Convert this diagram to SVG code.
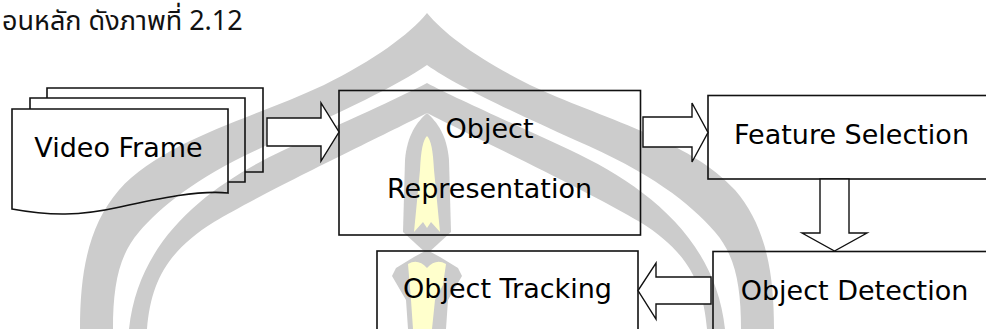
<svg xmlns="http://www.w3.org/2000/svg" xmlns:xlink="http://www.w3.org/1999/xlink" width="986" height="329" viewBox="0 0 986 329">
  <style>
    .box { fill: none; stroke: #111; stroke-width: 1.6; }
    .arrow { fill: #fff; stroke: #111; stroke-width: 1.4; stroke-linejoin: miter; }
    .label { font-family: "DejaVu Sans", "Verdana", sans-serif; font-size: 27px; fill: #000; text-anchor: middle; }
    .thai { font-family: "Noto Sans Thai", "Noto Sans", "DejaVu Sans", sans-serif; font-size: 27px; fill: #111; }
    .wm { fill: #cccccc; }
    .wmy { fill: #ffffcc; }
  </style>
  <defs>
    <g id="wm-half">
      <path class="wm" d="M427,13 C445,35 480,60 530,85 C600,118 690,140 735,190 C765,225 774,270 774,329 L741,329 C741,285 735,255 715,232 C690,203 650,172 575,140 C515,113 455,85 427,65 Z"/>
      <path class="wm" d="M427,83 C455,98 510,122 570,150 C640,183 715,235 725,329 L707,329 C703,280 685,250 640,222 C590,192 470,135 427,113 Z"/>
    </g>
  </defs>

  <g id="watermark">
    <use xlink:href="#wm-half"/>
    <use xlink:href="#wm-half" transform="translate(854,0) scale(-1,1)"/>
    <path class="wm" d="M427,113 C437,122 447,135 449,160 L451,232 L427,254 L403,232 L405,160 C407,135 417,122 427,113 Z"/>
    <path class="wmy" d="M427,136 C431,140 433,150 434,170 L440,232 L431,222 L427,228 L423,222 L414,232 L420,170 C421,150 423,140 427,136 Z"/>
    <path class="wm" d="M427,250 L440,257 L458,268 L462,276 L448,300 L446,329 L408,329 L406,300 L392,276 L396,268 L414,257 Z"/>
    <path class="wmy" d="M408,264 Q418,258 427,268 Q436,258 446,264 L443,285 L435,300 L432,329 L413,329 L411,300 Z"/>
  </g>

  <text class="thai" x="2" y="30">อนหลัก ดังภาพที่ 2.12</text>

  <g id="video-frame">
    <path class="box" d="M47,98 L47,88 L263,88 L263,172 L245,172"/>
    <path class="box" d="M30,109 L30,98 L245,98 L245,182 L228,182"/>
    <path class="box" d="M12,109 L228,109 L228,193 C200,190 160,198 120,207 C80,216 50,216 12,209 Z"/>
    <text class="label" x="118.5" y="157">Video Frame</text>
  </g>

  <g id="object-representation">
    <rect class="box" x="339" y="90.5" width="301.5" height="144.5"/>
    <text class="label" x="489.5" y="138">Object</text>
    <text class="label" x="489.5" y="198">Representation</text>
  </g>

  <g id="feature-selection">
    <rect class="box" x="708" y="95.5" width="300" height="83.5"/>
    <text class="label" x="851.5" y="144">Feature Selection</text>
  </g>

  <g id="object-detection">
    <rect class="box" x="713" y="251.5" width="300" height="100"/>
    <text class="label" x="854.5" y="300">Object Detection</text>
  </g>

  <g id="object-tracking">
    <rect class="box" x="377" y="251" width="261" height="100"/>
    <text class="label" x="507.5" y="298">Object Tracking</text>
  </g>

  <g id="connectors">
    <path class="arrow" d="M267,118 L321,118 L321,103 L339,132 L321,161 L321,146 L267,146 Z"/>
    <path class="arrow" d="M643,117 L692,117 L692,103 L708,132.5 L692,162 L692,147 L643,147 Z"/>
    <path class="arrow" d="M820,179 L820,233 L802,233 L834.5,251 L867,233 L849,233 L849,179 Z"/>
    <path class="arrow" d="M711,277 L656,277 L656,263 L638,290.5 L656,319 L656,304 L711,304 Z"/>
  </g>
</svg>
